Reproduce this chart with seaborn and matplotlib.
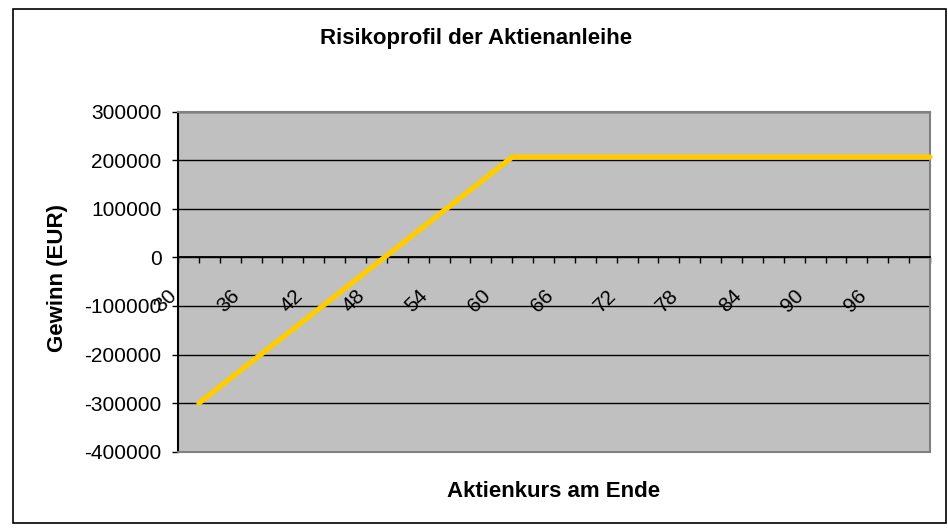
import numpy as np
import matplotlib
matplotlib.use("Agg")
import matplotlib.pyplot as plt
import seaborn as sns
from matplotlib.patches import Rectangle
from matplotlib.transforms import ScaledTranslation

sns.set_style("white")
plt.rcParams['font.family'] = ['Liberation Sans', 'DejaVu Sans']
plt.rcParams['axes.unicode_minus'] = False
plt.rcParams.update({'text.color': 'black', 'axes.labelcolor': 'black',
                     'xtick.color': 'black', 'ytick.color': 'black'})

# Aktienkurs am Ende (EUR) and resulting profit (EUR)
kurs = [32, 34, 36, 38, 40, 42, 44, 46, 48, 50, 52, 54, 56, 58, 60, 62,
        64, 66, 68, 70, 72, 74, 76, 78, 80, 82, 84, 86, 88, 90, 92, 94,
        96, 98, 100, 102]
gewinn = [-300000, -266230, -232450, -198680, -164910, -131130, -97360, -63590,
          -29810, 3960, 37730, 71510, 105280, 139050, 172830, 206600,
          206600, 206600, 206600, 206600, 206600, 206600, 206600, 206600,
          206600, 206600, 206600, 206600, 206600, 206600, 206600, 206600,
          206600, 206600, 206600, 206600]

x_range = [30, 102]
x_label_ticks = [30, 36, 42, 48, 54, 60, 66, 72, 78, 84, 90, 96]
y_ticks = [-400000, -300000, -200000, -100000, 0, 100000, 200000, 300000]

W, H = 948, 531
fig = plt.figure(figsize=(W / 100, H / 100), dpi=100)
ax = fig.add_axes([178 / W, 1 - 451.7 / H, 752 / W, 340 / H])
ax.set_facecolor('#C0C0C0')

sns.lineplot(x=kurs, y=gewinn, ax=ax, color='#FFCC00', linewidth=3.8,
             solid_capstyle='round', clip_on=False, zorder=5)

ax.set_xlim(x_range)
ax.set_ylim(y_ticks[0], y_ticks[-1])
ax.set_yticks(y_ticks)
ax.set_yticklabels([str(v) for v in y_ticks])
ax.yaxis.grid(True, color='black', linewidth=1.0)
ax.set_axisbelow(True)

# frame of the plot area
for s in ['top', 'right']:
    ax.spines[s].set_color('#808080')
    ax.spines[s].set_linewidth(1.5)
ax.spines['left'].set_color('black')
ax.spines['left'].set_linewidth(1.5)
ax.axhline(y_ticks[0], color='#808080', linewidth=1.5, zorder=3, clip_on=False)

# category axis crosses at zero
ax.spines['bottom'].set_position(('data', 0))
ax.spines['bottom'].set_color('black')
ax.spines['bottom'].set_linewidth(1.3)
ax.set_xticks(x_label_ticks)
ax.set_xticks(kurs, minor=True)
ax.set_xticklabels([str(v) for v in x_label_ticks])

ax.tick_params(axis='x', which='both', direction='out', length=4, width=1,
               color='black', bottom=True, labelsize=15, pad=27.5)
ax.tick_params(axis='y', direction='out', length=4.3, width=1, color='black',
               left=True, labelsize=15, pad=7.5)

ax.set_ylabel('Gewinn (EUR)', fontsize=16, fontweight='bold')
ax.yaxis.set_label_coords(-0.146, 0.51)
ax.set_xlabel('Aktienkurs am Ende', fontsize=16, fontweight='bold')
ax.xaxis.set_label_coords(0.5, -0.085)

fig.text(476.5 / W, 1 - 44 / H, 'Risikoprofil der Aktienanleihe',
         ha='center', va='baseline', fontsize=16, fontweight='bold')

plt.setp(ax.get_xticklabels(), rotation=45, ha='center', va='center',
         rotation_mode='anchor')
offset = ScaledTranslation(-12 / 100, 0, fig.dpi_scale_trans)
for lab in ax.get_xticklabels():
    lab.set_transform(lab.get_transform() + offset)

# outer chart border
fig.patches.append(Rectangle((13 / W, 1 - 523 / H), 933 / W, 514 / H,
                             transform=fig.transFigure, fill=False,
                             edgecolor='black', linewidth=1.2))

fig.savefig('out.png', dpi=100)
